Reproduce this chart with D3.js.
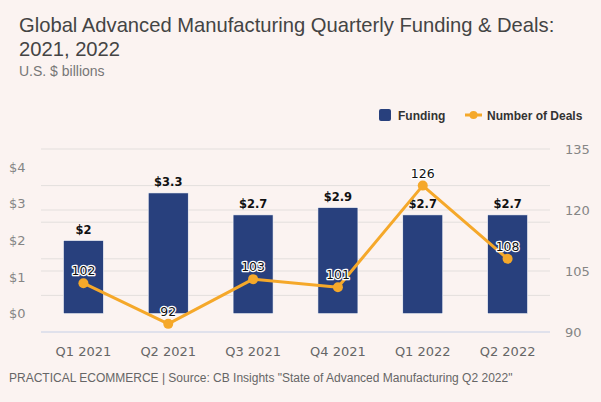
<!DOCTYPE html>
<html><head><meta charset="utf-8">
<script src="https://cdn.jsdelivr.net/npm/d3@7"></script>
<style>
html,body{margin:0;padding:0;background:#fbf3f1;}
svg{display:block;}
</style></head>
<body>
<script>
const categories = ["Q1 2021","Q2 2021","Q3 2021","Q4 2021","Q1 2022","Q2 2022"];
const funding = [2, 3.3, 2.7, 2.9, 2.7, 2.7];
const fundingLabels = ["$2","$3.3","$2.7","$2.9","$2.7","$2.7"];
const deals = [102, 92, 103, 101, 126, 108];
const leftTicks = [0,1,2,3,4];
const leftTickLabels = ["$0","$1","$2","$3","$4"];
const leftGrid = [-0.5,0.5,1.5,2.5,3.5,4.5];
const rightTicks = [90,105,120,135];

const W = 601, H = 402;
const svg = d3.select("body").append("svg").attr("width", W).attr("height", H);
svg.append("rect").attr("width", W).attr("height", H).attr("fill", "#fbf3f1");

const x0 = 41, x1 = 550, yTop = 149, yBot = 332;
const x = d3.scaleBand().domain(categories).range([x0, x1]).paddingInner(0).paddingOuter(0);
const yL = d3.scaleLinear().domain([-0.5, 4.5]).range([yBot, yTop]);
const yR = d3.scaleLinear().domain([90, 135]).range([yBot, yTop]);

// gridlines
const g = svg.append("g");
g.selectAll(".gl").data(leftGrid).enter().append("line")
  .attr("x1", x0).attr("x2", x1)
  .attr("y1", d => yL(d)).attr("y2", d => yL(d))
  .attr("stroke", d => d === -0.5 ? "#c5cfe6" : "#e3dfdd").attr("stroke-width", 1);
g.selectAll(".gr").data(rightTicks.filter(d => d !== 90 && d !== 135)).enter().append("line")
  .attr("x1", x0).attr("x2", x1)
  .attr("y1", d => yR(d)).attr("y2", d => yR(d))
  .attr("stroke", "#e3dfdd").attr("stroke-width", 1);

// left axis labels
svg.selectAll(".lt").data(leftTicks).enter().append("text")
  .attr("x", 9).attr("y", d => yL(d)).attr("dy", "0.35em")
  .attr("font-family", "DejaVu Sans, sans-serif").attr("font-size", 13)
  .attr("fill", "#858585").text((d, i) => leftTickLabels[i]);
// right axis labels
svg.selectAll(".rt").data(rightTicks).enter().append("text")
  .attr("x", 565).attr("y", d => yR(d)).attr("dy", "0.35em")
  .attr("font-family", "DejaVu Sans, sans-serif").attr("font-size", 13)
  .attr("fill", "#858585").text(d => d);
// x labels
svg.selectAll(".xl").data(categories).enter().append("text")
  .attr("x", d => x(d) + x.bandwidth()/2).attr("y", 351).attr("dy", "0.35em")
  .attr("text-anchor", "middle")
  .attr("font-family", "DejaVu Sans, sans-serif").attr("font-size", 13)
  .attr("fill", "#666").text(d => d);

// bars
const bw = 40;
svg.selectAll(".bar").data(funding).enter().append("rect")
  .attr("x", (d, i) => x(categories[i]) + x.bandwidth()/2 - bw/2)
  .attr("width", bw)
  .attr("y", d => yL(d))
  .attr("height", d => yL(0) - yL(d))
  .attr("fill", "#28407d").attr("stroke", "#ffffff").attr("stroke-width", 0.6);

// bar labels
svg.selectAll(".bl").data(funding).enter().append("text")
  .attr("x", (d, i) => x(categories[i]) + x.bandwidth()/2)
  .attr("y", d => yL(d) - 7)
  .attr("text-anchor", "middle")
  .attr("font-family", "DejaVu Sans, sans-serif").attr("font-size", 11.5).attr("font-weight", "bold")
  .attr("fill", "#111").text((d, i) => fundingLabels[i]);

// line
const line = d3.line().x((d, i) => x(categories[i]) + x.bandwidth()/2).y(d => yR(d));
svg.append("path").datum(deals).attr("d", line)
  .attr("fill", "none").attr("stroke", "#f5a82a").attr("stroke-width", 3)
  .attr("stroke-linejoin", "round");
svg.selectAll(".dot").data(deals).enter().append("circle")
  .attr("cx", (d, i) => x(categories[i]) + x.bandwidth()/2)
  .attr("cy", d => yR(d)).attr("r", 5).attr("fill", "#f5a82a");
// deal labels
svg.selectAll(".dl").data(deals).enter().append("text")
  .attr("x", (d, i) => x(categories[i]) + x.bandwidth()/2)
  .attr("y", d => yR(d) - 8)
  .attr("text-anchor", "middle")
  .attr("font-family", "DejaVu Sans, sans-serif").attr("font-size", 12.5)
  .attr("fill", "#111").attr("stroke", "#ffffff").attr("stroke-width", 2.5)
  .attr("paint-order", "stroke").attr("stroke-linejoin", "round")
  .text(d => d);

// legend
svg.append("rect").attr("x", 379).attr("y", 109).attr("width", 12).attr("height", 12).attr("rx", 2).attr("fill", "#28407d");
svg.append("text").attr("x", 398).attr("y", 119.5)
  .attr("font-family", "Liberation Sans, Arial, sans-serif").attr("font-size", 12).attr("font-weight", "bold")
  .attr("fill", "#333").text("Funding");
svg.append("line").attr("x1", 465).attr("x2", 482).attr("y1", 115).attr("y2", 115)
  .attr("stroke", "#f5a82a").attr("stroke-width", 3);
svg.append("circle").attr("cx", 473.5).attr("cy", 115).attr("r", 4).attr("fill", "#f5a82a");
svg.append("text").attr("x", 487).attr("y", 119.5)
  .attr("font-family", "Liberation Sans, Arial, sans-serif").attr("font-size", 12).attr("font-weight", "bold")
  .attr("fill", "#333").text("Number of Deals");

// titles
svg.append("text").attr("x", 19).attr("y", 32)
  .attr("font-family", "Liberation Sans, Arial, sans-serif").attr("font-size", 20.2)
  .attr("fill", "#444").text("Global Advanced Manufacturing Quarterly Funding & Deals:");
svg.append("text").attr("x", 19).attr("y", 56)
  .attr("font-family", "Liberation Sans, Arial, sans-serif").attr("font-size", 20.2)
  .attr("fill", "#444").text("2021, 2022");
svg.append("text").attr("x", 19).attr("y", 76)
  .attr("font-family", "Liberation Sans, Arial, sans-serif").attr("font-size", 14)
  .attr("fill", "#777").text("U.S. $ billions");
svg.append("text").attr("x", 9).attr("y", 382)
  .attr("font-family", "Liberation Sans, Arial, sans-serif").attr("font-size", 12)
  .attr("fill", "#666").text("PRACTICAL ECOMMERCE | Source: CB Insights \"State of Advanced Manufacturing Q2 2022\"");
</script>
</body></html>
